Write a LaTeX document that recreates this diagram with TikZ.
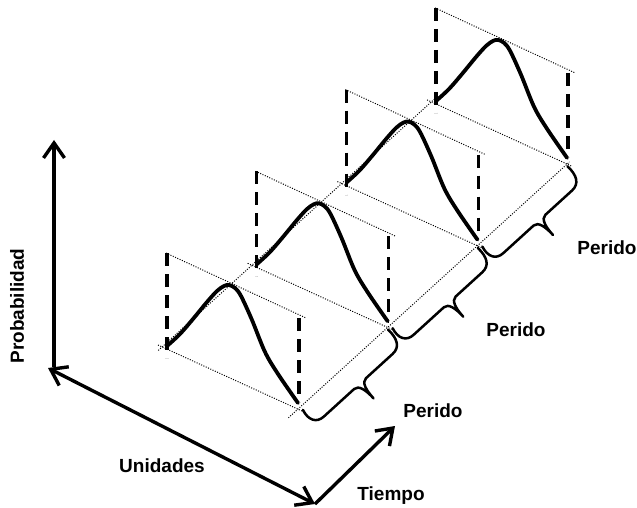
\documentclass[tikz,border=0pt]{standalone}
\usepackage{fontspec}
\setmainfont{Liberation Sans}
\usetikzlibrary{arrows.meta,calc}
\begin{document}
\begin{tikzpicture}[x=1pt,y=-1pt,
  axisline/.style={line width=3.4pt},
  barb/.tip={Straight Barb[length=15pt,width=21pt,line width=3.4pt]},
  dotline/.style={line width=1pt, dash pattern=on 1pt off 1.5pt},
  dashline/.style={line width=3.4pt, dash pattern=on 13pt off 8pt},
  bell/.style={line width=3.8pt, line join=round, line cap=round},
  bracestyle/.style={line width=2.5pt, line join=round, line cap=round},
  lbl/.style={font=\bfseries\fontsize{19}{21}\selectfont, inner sep=0pt}
]
\useasboundingbox (0,0) rectangle (637,508);

% panels
\foreach \k in {0,1,2,3} {
  \begin{scope}[shift={(\k*89.7,-\k*81.7)}]
    \coordinate (TL\k) at (166,253);
    \coordinate (TR\k) at (306,318);
    \coordinate (BLa\k) at (158,345);
    \coordinate (BRa\k) at (302,411);
    \coordinate (DL1\k) at (167,253);
    \coordinate (DL2\k) at (167,358);
    \coordinate (DR1\k) at (299,318);
    \coordinate (DR2\k) at (299,402);
    \draw[dotline] (TL\k) -- (TR\k);
    \draw[dotline] (BLa\k) -- (BRa\k);
    \draw[dashline] (DL1\k) -- (DL2\k);
    \draw[dashline] (DR1\k) -- (DR2\k);
    \draw[bell] plot[smooth, tension=0.55] coordinates {(167,346) (180,334) (193,319) (207,302) (217,291) (224,286) (229,285) (235,288) (241,296) (252,320) (265,352) (278,374) (298,403)};
  \end{scope}
}

% time lines
\coordinate (LA) at (158.3,350.4);
\coordinate (LB) at (434.5,99);
\coordinate (RA) at (288.4,417.8);
\coordinate (RB) at (569.5,161.9);
\draw[dotline] (LA) -- (LB);
\draw[dotline] (RA) -- (RB);

% braces
\foreach \k in {0,1,2} {
  \begin{scope}[shift={(298+\k*89.7,409-\k*81.7)}, x={(0.7395pt,0.6735pt)}, y={(0.6735pt,-0.7395pt)}]
    \draw[bracestyle] (3,4) .. controls (0,15) and (4,23) .. (14,23) -- (55,23)
      .. controls (61,23) and (63,32) .. (63,43)
      .. controls (63,32) and (65,23) .. (71,23) -- (107,23)
      .. controls (117,23) and (121,15) .. (120,2);
  \end{scope}
}

% axes
\coordinate (O) at (54,367);
\coordinate (P) at (54,140);
\coordinate (U1) at (48,368);
\coordinate (U2) at (315,504);
\coordinate (T) at (395,426);
\draw[axisline,-barb] (O) -- (P);
\draw[axisline,barb-barb] (U1) -- (U2);
\draw[axisline,-barb] (U2) -- (T);

% labels
\node[lbl, rotate=90] (prob) at (17,306) {Probabilidad};
\node[lbl] (unid) at (162,466) {Unidades};
\node[lbl] (tiem) at (391,496) {Tiempo};
\node[lbl] (per1) at (433,411) {Perido};
\node[lbl] (per2) at (516,330) {Perido};
\node[lbl] (per3) at (607,248) {Perido};
\end{tikzpicture}
\end{document}
